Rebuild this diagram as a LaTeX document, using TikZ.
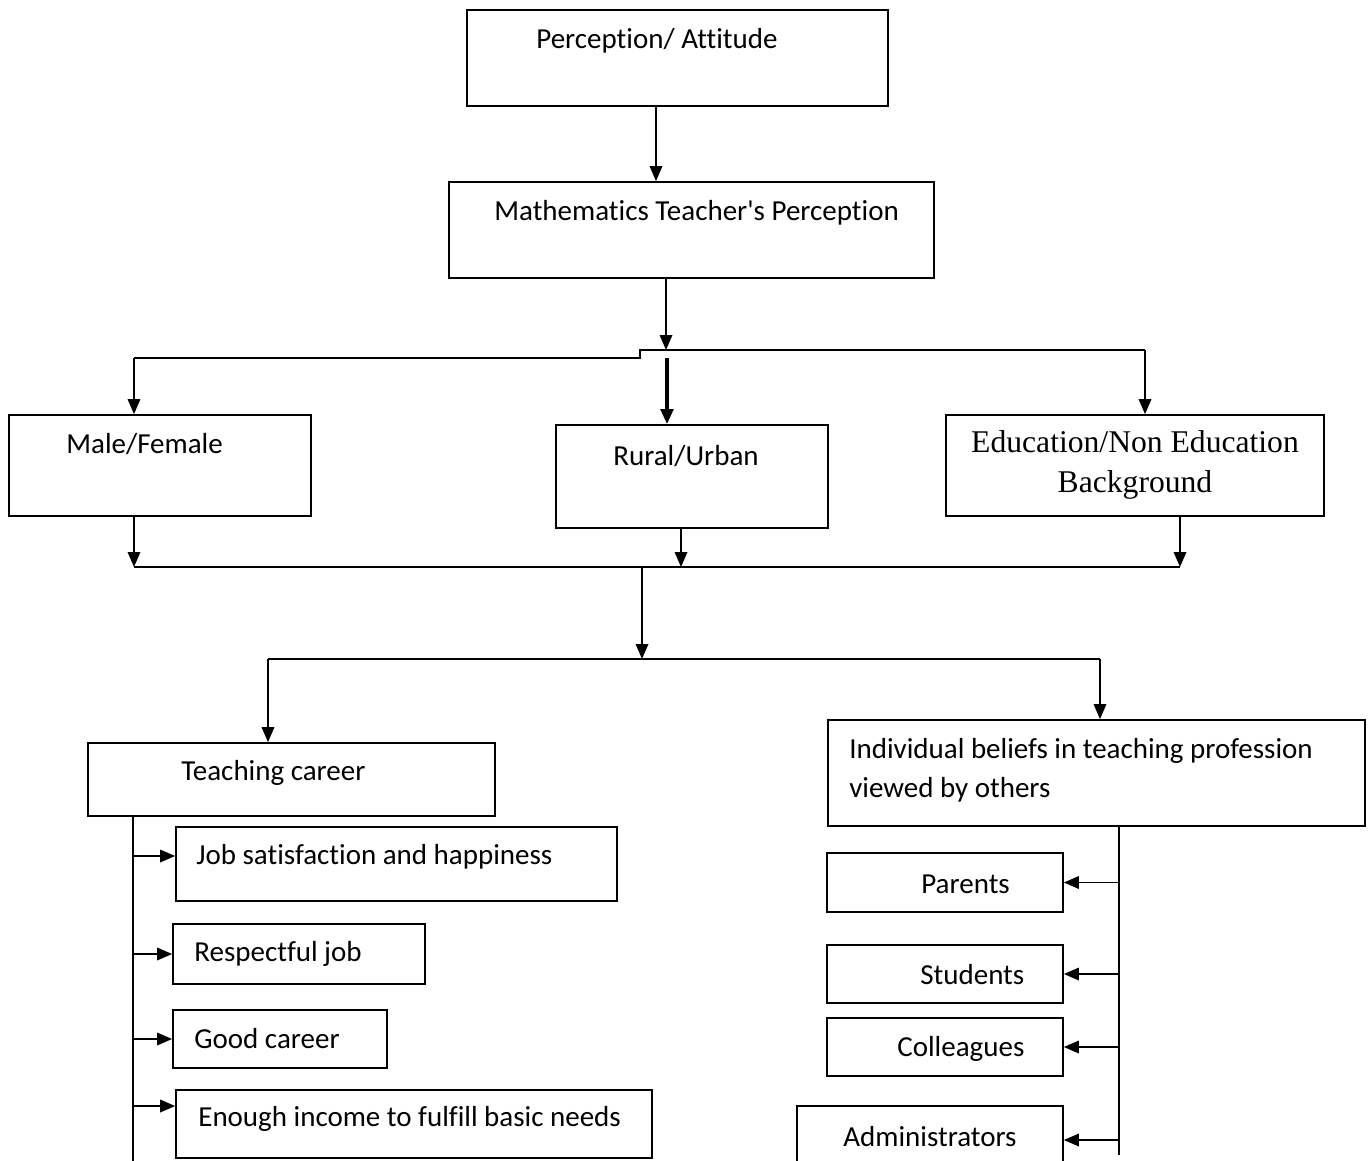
\documentclass[tikz,border=0pt]{standalone}
\usepackage{fontspec}
\setmainfont[Ligatures=NoCommon]{Carlito}
\newfontfamily\timesfont{Liberation Serif}
\usetikzlibrary{arrows.meta,positioning}

\begin{document}
\begin{tikzpicture}[x=0.02cm,y=-0.02cm,
    box/.style={rectangle,draw,line width=1pt,inner sep=0pt},
    lbl/.style={anchor=west,inner sep=0pt,font=\fontsize{16.5}{22}\selectfont},
    arr/.style={line width=1pt,-{Triangle[length=0.3cm,width=0.25cm]}},
    ln/.style={line width=1pt}]
    \useasboundingbox (0,0) rectangle (1369,1160);

    % Top boxes
    \node[box,minimum width=8.42cm,minimum height=1.92cm] (pa) at (677.5,58) {};
    \node[lbl] (palbl) at (536,41) {Perception/ Attitude};
    \node[box,minimum width=9.7cm,minimum height=1.92cm] (mtp) at (691.5,230) {};
    \node[lbl] (mtplbl) at (494,213) {Mathematics Teacher\textquotesingle s Perception};

    % Three groups
    \node[box,minimum width=6.04cm,minimum height=2.02cm] (mf) at (160,465.5) {};
    \node[lbl] (mflbl) at (66,444) {Male/Female};
    \node[box,minimum width=5.44cm,minimum height=2.06cm] (ru) at (692,476.5) {};
    \node[lbl] (rulbl) at (613,456) {Rural/Urban};
    \node[box,minimum width=7.56cm,minimum height=2.02cm] (edu) at (1135,465.5) {};
    \node[align=center,inner sep=0pt,font=\timesfont\fontsize{18}{22.7}\selectfont] (edulbl) at (1135,465) {Education/Non Education\\Background};

    % Two themes
    \node[box,minimum width=8.14cm,minimum height=1.46cm] (tc) at (291.5,779.5) {};
    \node[lbl] (tclbl) at (181,773) {Teaching career};
    \node[box,minimum width=10.74cm,minimum height=2.12cm] (ib) at (1096.5,773) {};
    \node[lbl,align=left] (iblbl) at (849,770) {Individual beliefs in teaching profession\\viewed by others};

    % Teaching career items
    \node[box,minimum width=8.82cm,minimum height=1.48cm] (js) at (396.5,864) {};
    \node[lbl] (jslbl) at (196,857) {Job satisfaction and happiness};
    \node[box,minimum width=5.04cm,minimum height=1.2cm] (rj) at (299,954) {};
    \node[lbl] (rjlbl) at (194,954) {Respectful job};
    \node[box,minimum width=4.28cm,minimum height=1.16cm] (gc) at (280,1039) {};
    \node[lbl] (gclbl) at (194,1039) {Good career};
    \node[box,minimum width=9.52cm,minimum height=1.36cm] (ei) at (414,1124) {};
    \node[lbl] (eilbl) at (198,1119) {Enough income to fulfill basic needs};

    % Viewed by others
    \node[box,minimum width=4.72cm,minimum height=1.18cm] (par) at (945,882.5) {};
    \node[lbl] (parlbl) at (921,884) {Parents};
    \node[box,minimum width=4.72cm,minimum height=1.16cm] (stu) at (945,974) {};
    \node[lbl] (stulbl) at (920,975) {Students};
    \node[box,minimum width=4.72cm,minimum height=1.16cm] (col) at (945,1047) {};
    \node[lbl] (collbl) at (897,1049) {Colleagues};
    \node[box,minimum width=5.32cm,minimum height=1.36cm] (adm) at (930,1140) {};
    \node[lbl] (admlbl) at (843,1137) {Administrators};

    % Top arrows
    \coordinate (c1) at (656,0);
    \draw[arr] (pa.south -| c1) -- (mtp.north -| c1);
    \coordinate (s1) at (666,350);
    \draw[arr] (mtp.south -| s1) -- (s1);

    % Split bus
    \coordinate (br) at (640,350);
    \coordinate (bl) at (640,358);
    \coordinate (bR) at (1145,350);
    \coordinate (bL) at (134,358);
    \coordinate (bm) at (667,358);
    \draw[ln] (bR) -- (br) -- (bl) -- (bL);
    \draw[arr] (bL) -- (mf.north -| bL);
    \draw[arr] (bR) -- (edu.north -| bR);
    \draw[arr,line width=2pt] (bm) -- (ru.north -| bm);

    % Merge bus
    \coordinate (m1) at (134,567);
    \coordinate (m2) at (681,567);
    \coordinate (m3) at (1180,567);
    \coordinate (m4) at (642,567);
    \draw[arr] (mf.south -| m1) -- (m1);
    \draw[arr] (ru.south -| m2) -- (m2);
    \draw[arr] (edu.south -| m3) -- (m3);
    \draw[ln] (m1) -- (m3);
    \coordinate (d1) at (642,659);
    \draw[arr] (m4) -- (d1);
    \coordinate (dL) at (268,659);
    \coordinate (dR) at (1100,659);
    \draw[ln] (dL) -- (dR);
    \draw[arr] (dL) -- (tc.north -| dL);
    \draw[arr] (dR) -- (ib.north -| dR);

    % Left list
    \coordinate (lt) at (133,1163);
    \draw[ln] (tc.south -| lt) -- (lt);
    \foreach \n/\s in {js/0.16cm,rj/0cm,gc/0cm,ei/0.36cm} {
        \path ([yshift=\s]\n.west) coordinate (t);
        \draw[arr] (t -| lt) -- (t);
    }

    % Right list
    \coordinate (rt) at (1119,1155);
    \draw[ln] (ib.south -| rt) -- (rt);
    \foreach \n in {par,stu,col,adm}
        \draw[arr] (\n.east -| rt) -- (\n.east);
\end{tikzpicture}
\end{document}
